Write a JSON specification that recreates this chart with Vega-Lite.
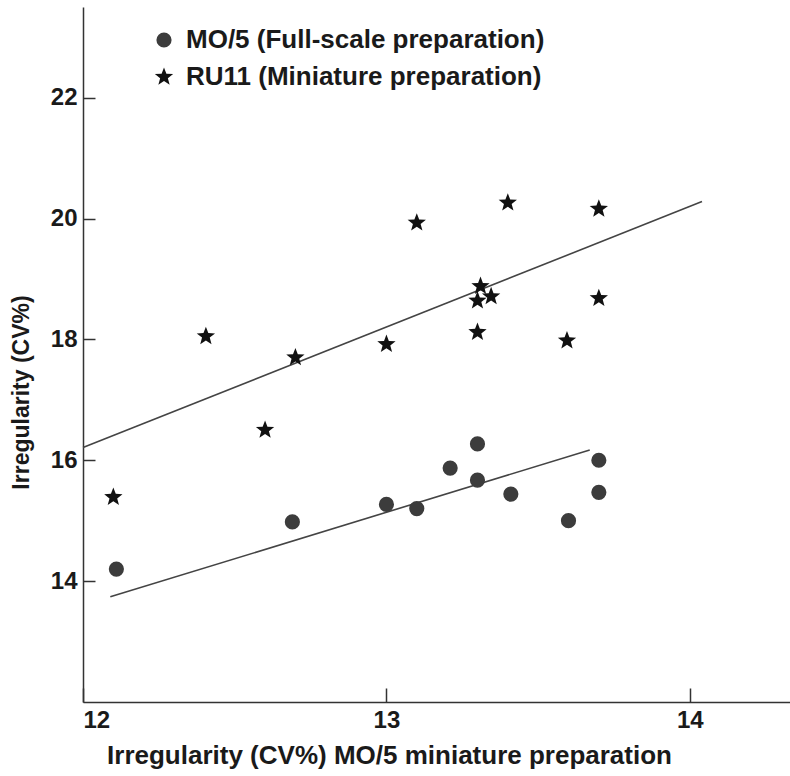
{
  "$schema": "https://vega.github.io/schema/vega-lite/v6.json",
  "width": 707,
  "height": 695,
  "autosize": {"type": "none"},
  "padding": {"left": 83, "top": 7, "right": 0, "bottom": 74},
  "background": "white",
  "config": {
    "view": {"stroke": null},
    "font": "Liberation Sans",
    "axis": {
      "grid": false,
      "domainColor": "#333",
      "domainWidth": 1.5,
      "tickColor": "#333",
      "tickWidth": 1.5,
      "labelFont": "Liberation Sans",
      "labelFontWeight": "bold",
      "labelColor": "#1a1a1a",
      "titleFont": "Liberation Sans",
      "titleFontWeight": "bold",
      "titleColor": "#1a1a1a"
    },
    "legend": {
      "labelFont": "Liberation Sans",
      "labelFontWeight": "bold",
      "labelColor": "#1a1a1a"
    }
  },
  "data": {
    "values": [
      {"kind": "point", "x": 12.11, "y": 14.2, "series": "MO/5 (Full-scale preparation)"},
      {"kind": "point", "x": 12.69, "y": 14.98, "series": "MO/5 (Full-scale preparation)"},
      {"kind": "point", "x": 13.0, "y": 15.27, "series": "MO/5 (Full-scale preparation)"},
      {"kind": "point", "x": 13.1, "y": 15.2, "series": "MO/5 (Full-scale preparation)"},
      {"kind": "point", "x": 13.21, "y": 15.87, "series": "MO/5 (Full-scale preparation)"},
      {"kind": "point", "x": 13.3, "y": 16.27, "series": "MO/5 (Full-scale preparation)"},
      {"kind": "point", "x": 13.3, "y": 15.67, "series": "MO/5 (Full-scale preparation)"},
      {"kind": "point", "x": 13.41, "y": 15.44, "series": "MO/5 (Full-scale preparation)"},
      {"kind": "point", "x": 13.6, "y": 15.0, "series": "MO/5 (Full-scale preparation)"},
      {"kind": "point", "x": 13.7, "y": 16.0, "series": "MO/5 (Full-scale preparation)"},
      {"kind": "point", "x": 13.7, "y": 15.47, "series": "MO/5 (Full-scale preparation)"},
      {"kind": "point", "x": 12.1, "y": 15.39, "series": "RU11 (Miniature preparation)"},
      {"kind": "point", "x": 12.405, "y": 18.05, "series": "RU11 (Miniature preparation)"},
      {"kind": "point", "x": 12.6, "y": 16.5, "series": "RU11 (Miniature preparation)"},
      {"kind": "point", "x": 12.7, "y": 17.7, "series": "RU11 (Miniature preparation)"},
      {"kind": "point", "x": 13.0, "y": 17.92, "series": "RU11 (Miniature preparation)"},
      {"kind": "point", "x": 13.1, "y": 19.93, "series": "RU11 (Miniature preparation)"},
      {"kind": "point", "x": 13.4, "y": 20.26, "series": "RU11 (Miniature preparation)"},
      {"kind": "point", "x": 13.7, "y": 20.16, "series": "RU11 (Miniature preparation)"},
      {"kind": "point", "x": 13.31, "y": 18.88, "series": "RU11 (Miniature preparation)"},
      {"kind": "point", "x": 13.3, "y": 18.64, "series": "RU11 (Miniature preparation)"},
      {"kind": "point", "x": 13.345, "y": 18.71, "series": "RU11 (Miniature preparation)"},
      {"kind": "point", "x": 13.7, "y": 18.68, "series": "RU11 (Miniature preparation)"},
      {"kind": "point", "x": 13.3, "y": 18.12, "series": "RU11 (Miniature preparation)"},
      {"kind": "point", "x": 13.595, "y": 17.98, "series": "RU11 (Miniature preparation)"},
      {"kind": "fit", "x": 12.09, "y": 13.74, "series": "MO/5 (Full-scale preparation)"},
      {"kind": "fit", "x": 13.67, "y": 16.17, "series": "MO/5 (Full-scale preparation)"},
      {"kind": "fit", "x": 12.0, "y": 16.21, "series": "RU11 (Miniature preparation)"},
      {"kind": "fit", "x": 14.04, "y": 20.28, "series": "RU11 (Miniature preparation)"}
    ]
  },
  "encoding": {
    "x": {
      "field": "x",
      "type": "quantitative",
      "scale": {"domain": [12, 14.33], "nice": false, "zero": false},
      "axis": {
        "orient": "bottom",
        "values": [12, 13, 14],
        "format": "d",
        "tickSize": -14,
        "labelPadding": 20,
        "labelFontSize": 24,
        "title": "Irregularity (CV%) MO/5 miniature preparation",
        "titleFontSize": 26,
        "titleX": 306,
        "titleY": 61,
        "titleBaseline": "alphabetic",
        "titleAlign": "center"
      }
    },
    "y": {
      "field": "y",
      "type": "quantitative",
      "scale": {"domain": [12, 23.5], "nice": false, "zero": false},
      "axis": {
        "orient": "left",
        "values": [14, 16, 18, 20, 22],
        "format": "d",
        "tickSize": -12,
        "labelPadding": 18,
        "labelFontSize": 24,
        "title": "Irregularity (CV%)",
        "titleFontSize": 23,
        "titleAngle": -90,
        "titleX": -55,
        "titleY": 385,
        "titleBaseline": "alphabetic",
        "titleAlign": "center"
      }
    }
  },
  "layer": [
    {
      "transform": [{"filter": "datum.kind === 'fit'"}],
      "mark": {"type": "line", "color": "#444", "strokeWidth": 1.6},
      "encoding": {
        "detail": {"field": "series", "type": "nominal"}
      }
    },
    {
      "transform": [{"filter": "datum.kind === 'point'"}],
      "mark": {"type": "point", "filled": true, "opacity": 1},
      "encoding": {
        "size": {
          "field": "series",
          "type": "nominal",
          "scale": {
            "domain": ["MO/5 (Full-scale preparation)", "RU11 (Miniature preparation)"],
            "range": [230, 370]
          },
          "legend": null
        },
        "shape": {
          "field": "series",
          "type": "nominal",
          "scale": {
            "domain": ["MO/5 (Full-scale preparation)", "RU11 (Miniature preparation)"],
            "range": ["circle", "M0,-1L0.25,-0.34L0.951,-0.309L0.4,0.13L0.588,0.809L0,0.42L-0.588,0.809L-0.4,0.13L-0.951,-0.309L-0.25,-0.34Z"]
          },
          "legend": {
            "title": null,
            "orient": "none",
            "legendX": 68,
            "legendY": 20,
            "padding": 0,
            "symbolSize": 250,
            "labelFontSize": 26,
            "labelOffset": 9,
            "rowPadding": 11,
            "labelLimit": 600
          }
        },
        "color": {
          "field": "series",
          "type": "nominal",
          "scale": {
            "domain": ["MO/5 (Full-scale preparation)", "RU11 (Miniature preparation)"],
            "range": ["#3c3c3c", "#111111"]
          },
          "legend": {
            "title": null,
            "orient": "none",
            "legendX": 68,
            "legendY": 20,
            "padding": 0,
            "symbolSize": 250,
            "labelFontSize": 26,
            "labelOffset": 9,
            "rowPadding": 11,
            "labelLimit": 600
          }
        }
      }
    }
  ]
}
